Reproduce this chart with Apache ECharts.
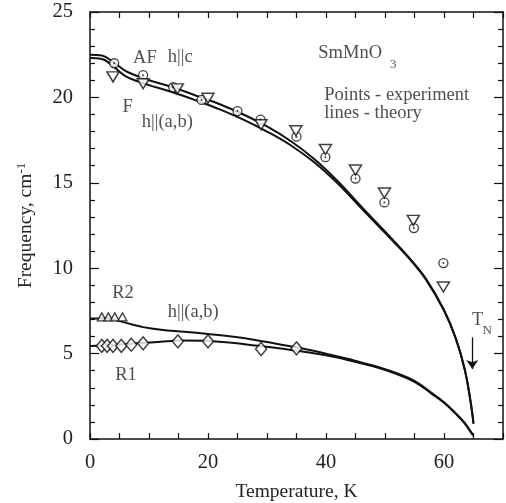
<!DOCTYPE html>
<html>
<head>
<meta charset="utf-8">
<script src="https://cdn.jsdelivr.net/npm/echarts@6/dist/echarts.min.js"></script>
<style>
  html, body { margin: 0; padding: 0; background: #fff; }
  #chart { width: 506px; height: 503px; }
</style>
</head>
<body>
<div id="chart"></div>
<script>
// theory curves [T, frequency]
const afTheory = [[0,22.5],[2,22.45],[4,22.05],[6,21.55],[8,21.25],[10,21.0],[14,20.6],[18,20.1],[22,19.6],[26,19.0],[30,18.3],[34,17.45],[38,16.4],[42,15.1],[46,13.6],[50,12.15],[54,10.65],[57,9.35],[60,7.55],[62,5.9],[63.5,4.1],[64.5,2.2],[65,0.9]]
const fTheory = [[0,22.3],[2,22.25],[4,21.8],[6,21.25],[8,20.95],[10,20.72],[14,20.3],[18,19.82],[22,19.3],[26,18.7],[30,18.0],[34,17.2],[38,16.2],[42,14.95],[46,13.5],[50,12.07],[54,10.6],[57,9.3],[60,7.52],[62,5.88],[63.5,4.08],[64.5,2.2],[65,0.9]]
const r2Theory = [[0,7.05],[3,7.05],[5,6.9],[7,6.72],[9,6.55],[12,6.4],[16,6.28],[20,6.15],[24,6.0],[28,5.8],[32,5.55],[36,5.3],[40,5.0],[44,4.67],[48,4.3],[52,3.85],[55,3.4],[58,2.67],[60,2.15],[62,1.5],[63.5,0.95],[64.5,0.45],[65,0.2]]
const r1Theory = [[0,5.45],[4,5.5],[8,5.6],[12,5.7],[16,5.76],[20,5.74],[24,5.63],[28,5.48],[32,5.32],[36,5.12],[40,4.9],[44,4.6],[48,4.25],[52,3.8],[55,3.35],[58,2.63],[60,2.12],[62,1.47],[63.5,0.92],[64.5,0.42],[65,0.2]]

// experiment points
const afPoints = [[4.1,22.0],[9.0,21.3],[14.1,20.6],[18.9,19.85],[25.0,19.2],[28.9,18.7],[35.0,17.7],[39.9,16.5],[45.0,15.25],[49.9,13.85],[54.9,12.35],[59.9,10.3]]
const fPoints = [[3.9,21.2],[9.0,20.8],[14.8,20.5],[20.0,19.95],[29.0,18.4],[34.9,18.05],[39.9,16.95],[45.0,15.75],[49.9,14.4],[54.8,12.8],[59.9,8.9]]
const r2Points = [[2.0,7.15],[3.1,7.15],[4.2,7.15],[5.5,7.15]]
const r1Points = [[2.0,5.45],[2.9,5.45],[3.9,5.45],[5.3,5.45],[7.0,5.52],[9.0,5.6],[14.9,5.72],[20.0,5.72],[29.0,5.27],[35.0,5.31]]

// annotations: text, T, freq, align, size
const notes = [
  ['AF', 9.3, 22.3, 'center', 18.5],
  ['h||c', 15.3, 22.35, 'center', 18.5],
  ['F', 6.4, 19.45, 'center', 18.5],
  ['h||(a,b)', 13.1, 18.55, 'center', 18.5],
  ['SmMnO', 44.1, 22.6, 'center', 18.5],
  ['3', 51.4, 21.9, 'center', 13],
  ['Points - experiment', 39.7, 20.15, 'left', 18.5],
  ['lines - theory', 39.7, 19.1, 'left', 18.5],
  ['R2', 5.6, 8.55, 'center', 18.5],
  ['h||(a,b)', 17.5, 7.45, 'center', 18.5],
  ['R1', 6.1, 3.75, 'center', 18.5],
  ['T', 65.7, 6.95, 'center', 18.5],
  ['N', 67.3, 6.35, 'center', 13],
]
const tnArrow = [[64.8, 5.95], [64.8, 4.1]]

const font = "'Liberation Serif', 'DejaVu Serif', serif"
const ink = '#111'
const textInk = '#222'

const chart = echarts.init(document.getElementById('chart'), null, { renderer: 'canvas' })

function xAxisCfg(pos) {
  return {
    type: 'value', min: 0, max: 70, interval: 5, position: pos,
    axisLine: { show: true, onZero: false, lineStyle: { color: ink, width: 1.5 } },
    axisTick: { inside: true, length: 6, lineStyle: { color: ink, width: 1.2 } },
    axisLabel: {
      show: pos === 'bottom', margin: 13, color: textInk, fontSize: 20.5, fontFamily: font,
      formatter: (v) => (v % 20 === 0 ? String(v) : ''),
    },
    splitLine: { show: false },
  }
}

function yAxisCfg(pos) {
  return {
    type: 'value', min: 0, max: 25, interval: 5, position: pos,
    axisLine: { show: true, onZero: false, lineStyle: { color: ink, width: 1.5 } },
    axisTick: { inside: true, length: 9, lineStyle: { color: ink, width: 1.2 } },
    minorTick: { show: true, splitNumber: 5, length: 5, lineStyle: { color: ink, width: 1.2 } },
    axisLabel: { show: pos === 'left', margin: 17, color: textInk, fontSize: 20.5, fontFamily: font },
    splitLine: { show: false },
  }
}

function theory(data) {
  return {
    type: 'line', data, smooth: 0.4, symbol: 'none', z: 2,
    lineStyle: { color: ink, width: 2 },
  }
}

const xBottom = xAxisCfg('bottom')
xBottom.name = 'Temperature, K'
xBottom.nameLocation = 'middle'
xBottom.nameGap = 43
xBottom.nameTextStyle = { color: textInk, fontSize: 19.5, fontFamily: font }

const yLeft = yAxisCfg('left')
yLeft.name = 'Frequency, cm{sup|-1}'
yLeft.nameLocation = 'middle'
yLeft.nameGap = 54
yLeft.nameTextStyle = {
  color: textInk, fontSize: 19.5, fontFamily: font,
  rich: { sup: { fontSize: 13, fontFamily: font, color: textInk, verticalAlign: 'top', padding: [0, 0, 8, 0] } },
}

const option = {
  backgroundColor: '#fff',
  animation: false,
  grid: { left: 90, right: 3, top: 12, bottom: 64, outerBoundsMode: 'none' },
  xAxis: [xBottom, xAxisCfg('top')],
  yAxis: [yLeft, yAxisCfg('right')],
  series: [
    theory(afTheory),
    theory(fTheory),
    theory(r2Theory),
    theory(r1Theory),
    {
      type: 'scatter', data: afPoints, symbol: 'circle', symbolSize: 9, z: 4,
      itemStyle: { color: '#fff', borderColor: ink, borderWidth: 1.3 },
    },
    {
      type: 'scatter', data: afPoints, symbol: 'circle', symbolSize: 2, z: 5,
      itemStyle: { color: ink },
    },
    {
      type: 'scatter', data: fPoints, symbol: 'triangle', symbolRotate: 180, symbolSize: [12, 10], z: 4,
      itemStyle: { color: '#fff', borderColor: ink, borderWidth: 1.5 },
    },
    {
      type: 'scatter', data: r2Points, symbol: 'triangle', symbolSize: [9, 8], z: 4,
      itemStyle: { color: '#fff', borderColor: ink, borderWidth: 1.3 },
    },
    {
      type: 'scatter', data: r1Points, symbol: 'diamond', symbolSize: [11, 13], z: 4,
      itemStyle: { color: '#fff', borderColor: ink, borderWidth: 1.5 },
    },
    {
      type: 'line', data: [], symbol: 'none',
      markLine: {
        silent: true, symbol: ['none', 'arrow'], symbolSize: 9, animation: false,
        label: { show: false },
        lineStyle: { color: ink, width: 1.3, type: 'solid' },
        data: [[{ coord: tnArrow[0] }, { coord: tnArrow[1] }]],
      },
    },
    {
      type: 'scatter', symbolSize: 0, z: 6, silent: true,
      data: notes.map((n) => ({
        value: [n[1], n[2]],
        label: {
          show: true,
          position: n[3] === 'left' ? 'right' : 'inside',
          distance: 0,
          formatter: n[0],
          color: textInk,
          fontSize: n[4],
          fontFamily: font,
        },
      })),
      itemStyle: { color: 'transparent' },
    },
  ],
}

chart.setOption(option)
</script>
</body>
</html>
